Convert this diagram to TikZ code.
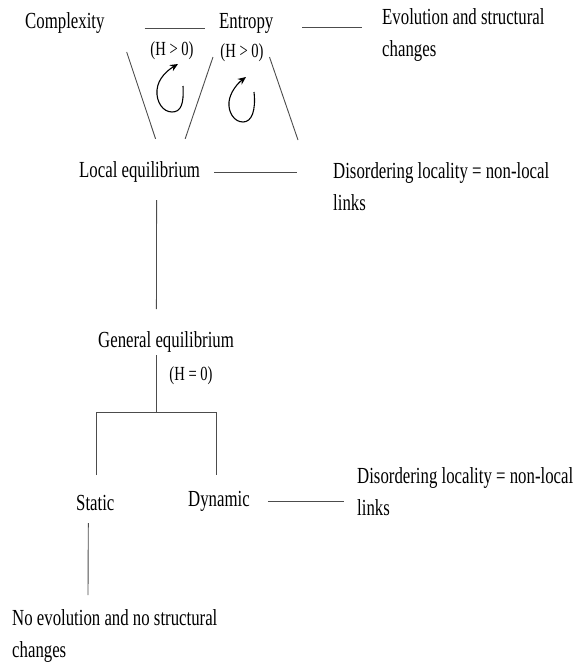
\documentclass[tikz,border=0pt]{standalone}
\usepackage{fontspec}
\setmainfont{Liberation Serif}[FakeStretch=0.73]
\usetikzlibrary{arrows.meta}

\begin{document}
\begin{tikzpicture}[x=1pt,y=-1pt,
    txt/.style={inner sep=0pt,anchor=base west,font=\fontsize{23}{32}\selectfont},
    hval/.style={inner sep=0pt,font=\fontsize{20}{22}\selectfont},
    wire/.style={draw=black!70,line width=0.9pt},
    turn/.style={line width=1.1pt,-{Stealth[length=8pt,width=7pt]}}]
    \useasboundingbox (0,0) rectangle (576,665);
    % top row
    \node[txt] (cplx) at (25,28) {Complexity};
    \node[txt] (entr) at (219,28) {Entropy};
    \node[txt,anchor=north west,align=left] (evol) at (382,8) {Evolution and structural\\changes};
    \node[hval] (hposA) at (172,51) {(H > 0)};
    \node[hval] (hposB) at (242,53) {(H > 0)};
    % local level
    \node[txt] (loceq) at (79,177) {Local equilibrium};
    \node[txt,anchor=north west,align=left] (disA) at (333,162) {Disordering locality = non-local\\links};
    % general level
    \node[txt] (geneq) at (98,347) {General equilibrium};
    \node[hval] (hzero) at (191,376) {(H = 0)};
    \node[txt] (static) at (76,510) {Static};
    \node[txt] (dynamic) at (188,506) {Dynamic};
    \node[txt,anchor=north west,align=left] (disB) at (357,467) {Disordering locality = non-local\\links};
    \node[txt,anchor=north west,align=left] (noevol) at (12,609) {No evolution and no structural\\changes};

    \draw[wire] ([xshift=40pt]cplx.base east) -- ([xshift=-14pt]entr.base west);
    \draw[wire] ([xshift=29pt,yshift=1pt]entr.base east) -- ([xshift=-20pt,yshift=-19pt]evol.north west);
    \draw[wire] ([xshift=22pt,yshift=-24pt]cplx.base east) -- ([xshift=16pt,yshift=22pt]loceq.north);
    \draw[wire] ([xshift=-6pt,yshift=-29pt]entr.base west) -- ([xshift=-15pt,yshift=22pt]loceq.north east);
    \draw[wire] ([xshift=-4pt,yshift=-29pt]entr.base east) -- ([xshift=-35pt,yshift=22pt]disA.north west);
    \draw[wire] ([xshift=14pt,yshift=5pt]loceq.base east) -- ([xshift=-36pt,yshift=-10pt]disA.north west);
    % feedback loops
    \draw[turn] (183,86) .. controls (184,104) and (181,112) .. (172,112)
        .. controls (163,112) and (156,102) .. (157,90)
        .. controls (158,78) and (168,70) .. (178,64);
    \draw[turn] (254,92) .. controls (256,110) and (252,122) .. (243,122)
        .. controls (234,122) and (228,112) .. (229,102)
        .. controls (230,92) and (238,83) .. (246,77);

    \draw[wire] ([xshift=17pt,yshift=-23pt]loceq.base) -- ([xshift=-9.6pt,yshift=38pt]geneq.base);
    \draw[wire] ([xshift=-9.6pt,yshift=-8pt]geneq.base) -- ++(0,57);
    \draw[wire] ([xshift=1pt,yshift=35pt]static.base) -- ++(0,-63) -| ([xshift=-2.6pt,yshift=31pt]dynamic.base);
    \draw[wire] ([xshift=-7pt,yshift=-13pt]static.base) -- ([xshift=76pt,yshift=14pt]noevol.north west);
    \draw[wire] ([xshift=18pt,yshift=5pt]dynamic.base east) -- ([xshift=-13pt,yshift=-34pt]disB.north west);
\end{tikzpicture}
\end{document}
